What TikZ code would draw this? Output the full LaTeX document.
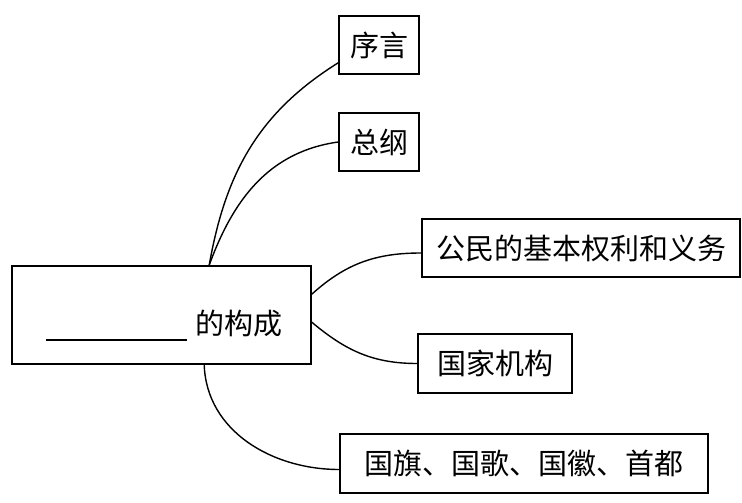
\documentclass[tikz,border=0pt]{standalone}
\usepackage{fontspec}
\newfontfamily\cjk{Noto Sans CJK SC}
\tikzset{partbox/.style={draw,line width=1.6pt,inner sep=0pt,font=\cjk\fontsize{29}{33}\selectfont},
  link/.style={line width=1.4pt}}

\begin{document}
\begin{tikzpicture}[x=1pt,y=-1pt]
            \useasboundingbox (0,0) rectangle (742,503);
            % boxes
            \node[partbox,minimum width=299pt,minimum height=98pt] (whole) at (161.5,315)
              {\raisebox{-19pt}[0pt][0pt]{\hspace{6pt}\rule[-6.5pt]{141pt}{1.4pt}\hspace{9pt}的构成}};
            \node[partbox,minimum width=80pt,minimum height=58pt] (preface) at (379,45) {序言};
            \node[partbox,minimum width=80pt,minimum height=58pt] (general) at (379,142) {总纲};
            \node[partbox,minimum width=318pt,minimum height=58pt] (rights) at (581,248) {公民的基本权利和义务};
            \node[partbox,minimum width=154pt,minimum height=59pt] (organs) at (495,363.5) {国家机构};
            \node[partbox,minimum width=368pt,minimum height=59pt] (symbols) at (524,463.5) {国旗、国歌、国徽、首都};

            % connectors
            \coordinate (top) at ([xshift=198pt]whole.north west);
            \coordinate (bot) at ([xshift=193pt]whole.south west);
            \draw[link] (top) to[out=80,in=212] ([yshift=12pt]preface.south west);
            \draw[link] (top) to[out=70,in=188] (general.west);
            \draw[link] ([yshift=-29pt]whole.north east) to[out=42,in=180] ([yshift=-5pt]rights.west);
            \draw[link] ([yshift=-57pt]whole.north east) to[out=-40,in=180] (organs.west);
            \draw[link] (bot) to[out=-88,in=180] ([yshift=-6pt]symbols.west);
\end{tikzpicture}
\end{document}
